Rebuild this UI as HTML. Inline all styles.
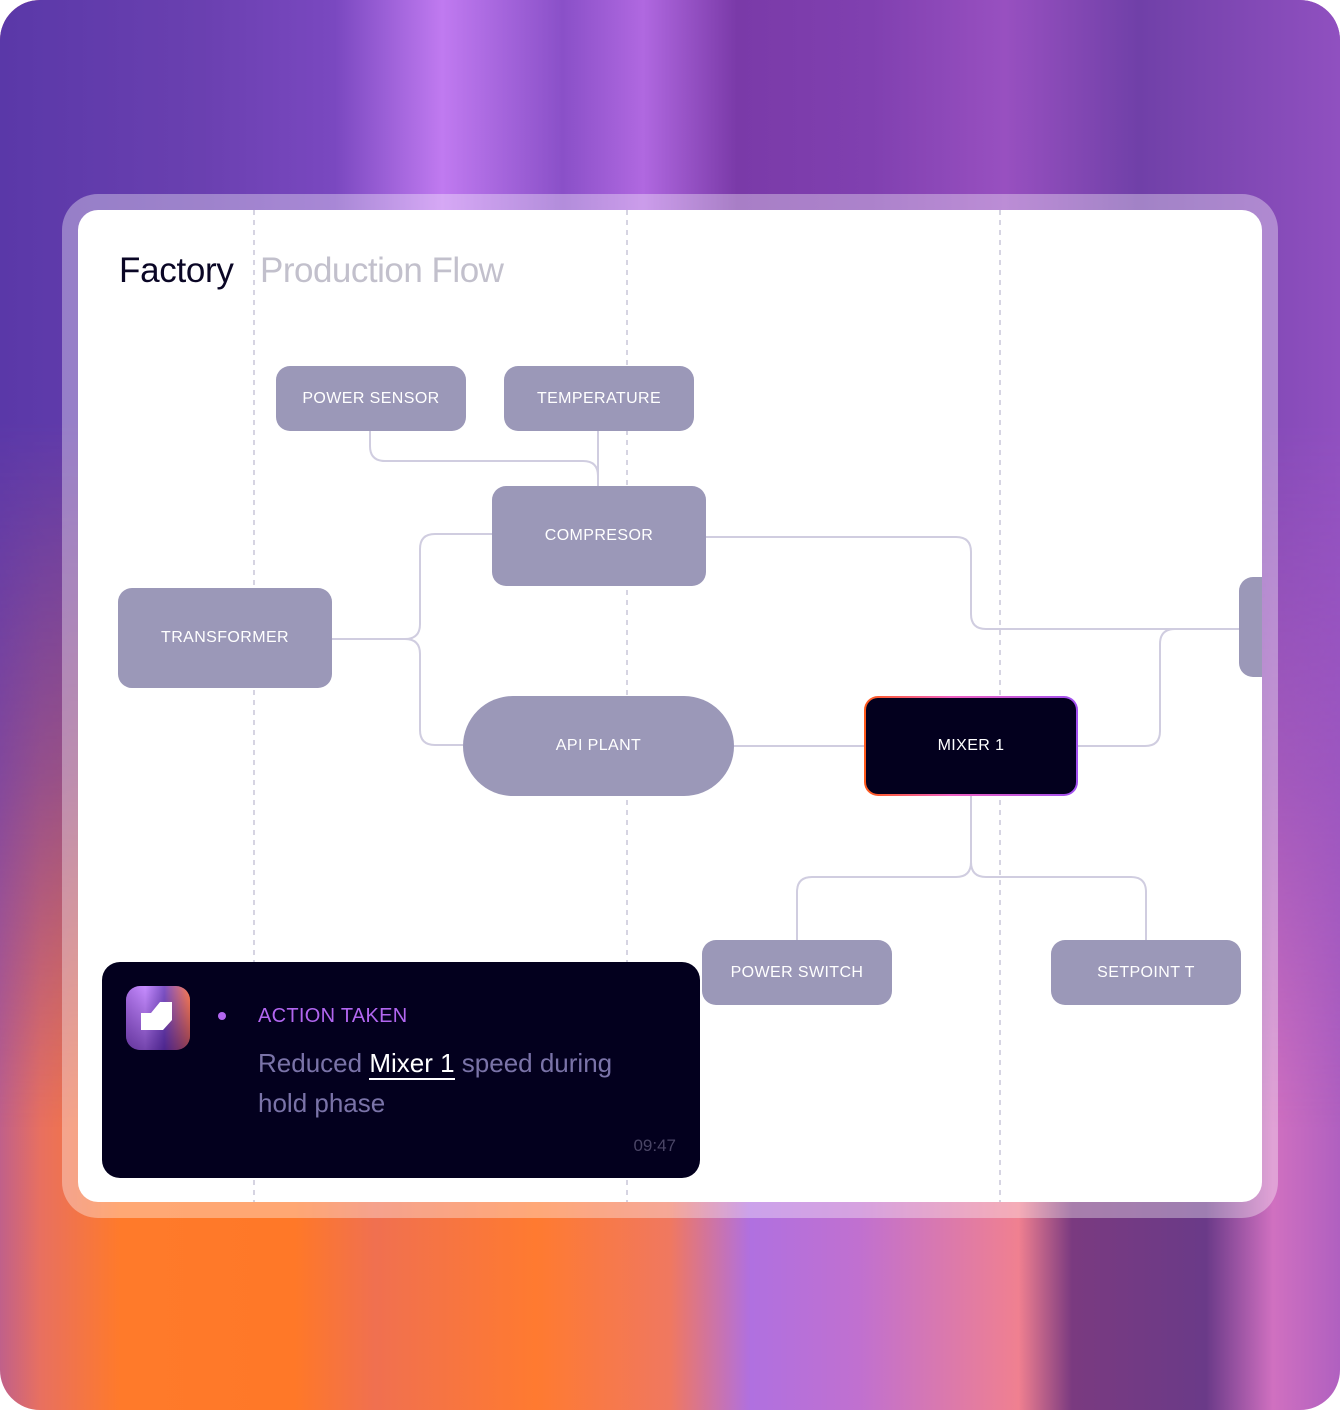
<!DOCTYPE html>
<html><head><meta charset="utf-8"><style>
html,body{margin:0;padding:0;background:#fff;}
#root{position:relative;width:1340px;height:1410px;border-radius:40px;overflow:hidden;font-family:"Liberation Sans",sans-serif;}
.bg1{position:absolute;inset:0;background:linear-gradient(90deg,#c0608a 0%,#e87060 3%,#ff7a2a 9%,#ff7828 22%,#f07050 28%,#ff7a30 40%,#f07860 50%,#b070e0 56%,#c070d0 64%,#f08090 76%,#7a3a80 80%,#6a3a88 90%,#d070c0 95%,#b060c0 100%);}
.bg2{position:absolute;inset:0;background:linear-gradient(90deg,#5a38a8 0%,#6a40b0 15%,#7a48c0 25%,#c07af0 33%,#8a50c8 42%,#b068e0 48%,#7a3aa8 55%,#8040b0 65%,#9850c0 75%,#7040a8 85%,#9050c0 100%);
-webkit-mask-image:linear-gradient(180deg,#000 0%,#000 30%,rgba(0,0,0,.6) 55%,rgba(0,0,0,0) 80%);mask-image:linear-gradient(180deg,#000 0%,#000 30%,rgba(0,0,0,.6) 55%,rgba(0,0,0,0) 80%);}
.frame{position:absolute;left:62px;top:194px;width:1216px;height:1024px;border-radius:36px;background:rgba(255,255,255,.35);}
.card{position:absolute;left:78px;top:210px;width:1184px;height:992px;border-radius:20px;background:#fff;overflow:hidden;}
svg{position:absolute;left:0;top:0;}
.node{position:absolute;background:#9b98b8;color:#fff;font-size:16px;letter-spacing:0.4px;display:flex;align-items:center;justify-content:center;border-radius:14px;}
.t1{position:absolute;left:41px;top:41px;font-size:35px;color:#0a0625;letter-spacing:-0.3px;}
.t2{position:absolute;left:182px;top:41px;font-size:35px;color:#c2c0cc;letter-spacing:-0.5px;}
.toast{position:absolute;left:24px;top:752px;width:598px;height:216px;border-radius:18px;background:#03001e;}
</style></head><body><div id="root">
<div class="bg1"></div><div class="bg2"></div>
<div class="frame"></div>
<div class="card">
<svg width="1184" height="992" viewBox="78 210 1184 992">
<g stroke="#c9c6d8" stroke-width="1.5" stroke-dasharray="5 5"><line x1="254" y1="210" x2="254" y2="1202"/><line x1="627" y1="210" x2="627" y2="1202"/><line x1="1000" y1="210" x2="1000" y2="1202"/></g>
<g stroke="#d0cde0" stroke-width="2" fill="none">
<path d="M370 431 V446 Q370 461 385 461 H583 Q598 461 598 476 V486"/>
<path d="M598 431 V486"/>
<path d="M332 639 H405 Q420 639 420 624 V549 Q420 534 435 534 H492"/>
<path d="M405 639 Q420 639 420 654 V730 Q420 745 435 745 H463"/>
<path d="M706 537 H956 Q971 537 971 552 V614 Q971 629 986 629 H1240"/>
<path d="M734 746 H864"/>
<path d="M1077 746 H1145 Q1160 746 1160 731 V644 Q1160 629 1175 629 H1240"/>
<path d="M971 796 V862 Q971 877 956 877 H812 Q797 877 797 892 V940"/>
<path d="M971 862 Q971 877 986 877 H1131 Q1146 877 1146 892 V940"/>
</g></svg>
<div class="t1">Factory</div><div class="t2">Production Flow</div>
<div class="node" style="left:198px;top:156px;width:190px;height:65px">POWER SENSOR</div>
<div class="node" style="left:426px;top:156px;width:190px;height:65px">TEMPERATURE</div>
<div class="node" style="left:414px;top:276px;width:214px;height:100px">COMPRESOR</div>
<div class="node" style="left:40px;top:378px;width:214px;height:100px">TRANSFORMER</div>
<div class="node" style="left:385px;top:486px;width:271px;height:100px;border-radius:50px">API PLANT</div>
<div style="position:absolute;left:786px;top:486px;width:214px;height:100px;border-radius:14px;background:linear-gradient(90deg,#ff5a1a,#f060c0 40%,#a050f0);"><div class="node" style="left:2px;top:2px;width:210px;height:96px;border-radius:12px;background:#03001e;">MIXER 1</div></div>
<div class="node" style="left:1161px;top:367px;width:80px;height:100px"></div>
<div class="node" style="left:624px;top:730px;width:190px;height:65px">POWER SWITCH</div>
<div class="node" style="left:973px;top:730px;width:190px;height:65px">SETPOINT T</div>
<div class="toast">
<div style="position:absolute;left:24px;top:24px;width:64px;height:64px;border-radius:14px;background:linear-gradient(90deg,#a060e0,#c080ff 30%,#7040c0 60%,#ff7040);overflow:hidden"><div style="position:absolute;inset:0;background:linear-gradient(180deg,rgba(255,255,255,.1),rgba(40,10,90,.5))"></div>
<svg width="64" height="64" style="position:absolute;left:0;top:0"><polygon points="15,27 25,27 34,16 46,16 46,34 37,44 15,44" fill="#fff"/></svg></div>
<div style="position:absolute;left:116px;top:50px;width:8px;height:8px;border-radius:4px;background:#b266f0"></div>
<div style="position:absolute;left:156px;top:43px;font-size:20px;letter-spacing:.3px;color:#b266f0">ACTION TAKEN</div>
<div style="position:absolute;left:156px;top:81px;width:380px;font-size:26px;line-height:40px;color:#7a73a8">Reduced <span style="color:#fff;border-bottom:2px solid #fff">Mixer 1</span> speed during hold phase</div>
<div style="position:absolute;right:24px;top:174px;font-size:17px;color:#4a4566">09:47</div>
</div>
</div>
</div></body></html>
